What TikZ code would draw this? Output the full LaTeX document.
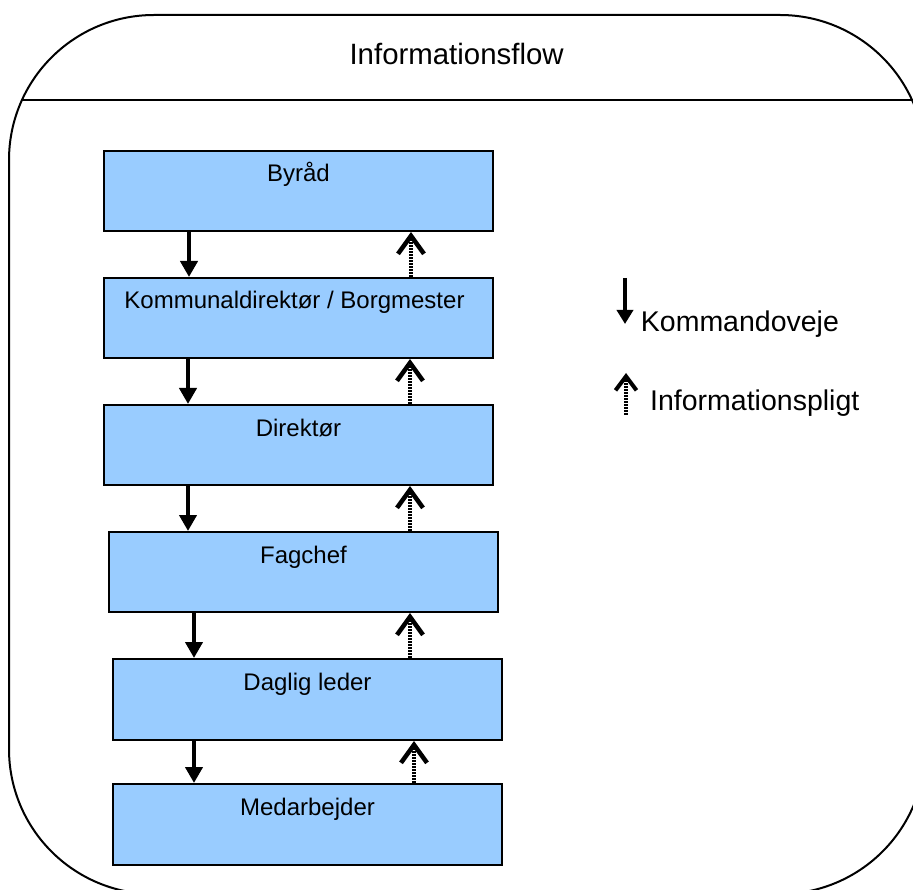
\documentclass[tikz,border=0pt]{standalone}
\usepackage{fontspec}
\setmainfont{Liberation Sans}
\usetikzlibrary{arrows.meta}
\definecolor{boxblue}{HTML}{99CCFF}
\begin{document}
\begin{tikzpicture}[x=1pt,y=-1pt,
  stage/.style={draw=black, line width=2pt, fill=boxblue, minimum width=389pt, minimum height=80pt, anchor=north west, inner sep=0pt},
  lbl/.style={font=\fontsize{24}{28}\selectfont, anchor=base, inner sep=0pt},
  legtext/.style={font=\fontsize{28.5}{33}\selectfont, anchor=base west, inner sep=0pt},
  cmd/.style={line width=4pt, -{Triangle[width=17pt,length=16pt]}},
  info/.style={line width=4pt, dash pattern=on 2pt off 1pt, -{Straight Barb[width=26pt,length=18pt,line width=4.5pt]}},
  cmdleg/.style={line width=3.5pt, -{Triangle[width=16pt,length=14pt]}},
  infoleg/.style={line width=3.5pt, dash pattern=on 2pt off 1pt, -{Straight Barb[width=21pt,length=14pt,line width=4pt]}}]
\useasboundingbox (0,0) rectangle (913,890);
\begin{scope}
  \clip (0,0) rectangle (913,890);
  \draw[line width=2pt, rounded corners=145pt] (9,15) rectangle (925,894);
  \draw[line width=2pt] (22,100) -- (925,100);
\end{scope}
\node[font=\fontsize{29.4}{34}\selectfont, anchor=base, inner sep=0pt] (title) at (456.6,65) {Informationsflow};

\node[stage] (b1) at (103,150) {};
\node[stage] (b2) at (103,277) {};
\node[stage] (b3) at (103,404) {};
\node[stage] (b4) at (108,531) {};
\node[stage, minimum height=81pt] (b5) at (112,658) {};
\node[stage, minimum height=81pt] (b6) at (112,783) {};

\node[lbl] (t1) at ([yshift=-32pt]b1.north) {Byråd};
\node[lbl] (t2) at ([xshift=-4pt,yshift=-32pt]b2.north) {Kommunaldirektør / Borgmester};
\node[lbl] (t3) at ([yshift=-32pt]b3.north) {Direktør};
\node[lbl] (t4) at ([yshift=-32pt]b4.north) {Fagchef};
\node[lbl] (t5) at ([yshift=-32pt]b5.north) {Daglig leder};
\node[lbl] (t6) at ([yshift=-32pt]b6.north) {Medarbejder};

\draw[cmd] ([xshift=86pt]b1.south west) -- ([xshift=86pt]b2.north west);
\draw[cmd] ([xshift=85pt]b2.south west) -- ([xshift=85pt]b3.north west);
\draw[cmd] ([xshift=85pt]b3.south west) -- ([xshift=80pt]b4.north west);
\draw[cmd] ([xshift=86pt]b4.south west) -- ([xshift=82pt]b5.north west);
\draw[cmd] ([xshift=82pt]b5.south west) -- ([xshift=82pt]b6.north west);

\draw[info] ([xshift=308pt]b2.north west) -- ([xshift=308pt]b1.south west);
\draw[info] ([xshift=307pt]b3.north west) -- ([xshift=307pt]b2.south west);
\draw[info] ([xshift=302pt]b4.north west) -- ([xshift=307pt]b3.south west);
\draw[info] ([xshift=298pt]b5.north west) -- ([xshift=302pt]b4.south west);
\draw[info] ([xshift=302pt]b6.north west) -- ([xshift=302pt]b5.south west);

\coordinate (k1) at (625,278);
\coordinate (k2) at (625,324);
\draw[cmdleg] (k1) -- (k2);
\node[legtext] (kt) at (640.7,331.7) {Kommandoveje};
\coordinate (i1) at (626,415);
\coordinate (i2) at (626,373);
\draw[infoleg] (i1) -- (i2);
\node[legtext] (it) at (650,410) {Informationspligt};
\end{tikzpicture}
\end{document}
